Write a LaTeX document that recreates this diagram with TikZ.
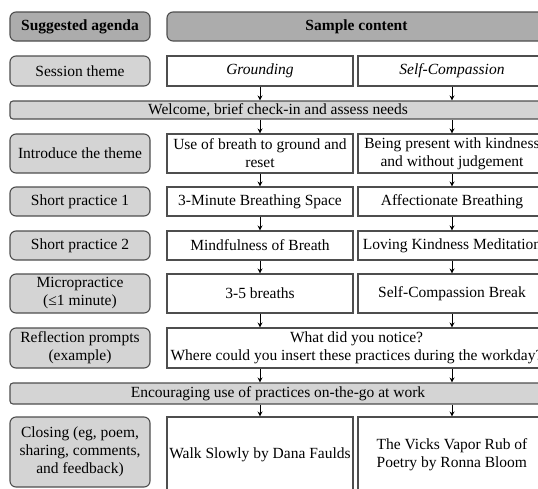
\documentclass[tikz,border=0pt]{standalone}
\usepackage{fontspec}
\setmainfont{Liberation Serif}
\usetikzlibrary{arrows.meta,positioning}
\definecolor{agendagray}{RGB}{212,212,212}
\definecolor{headgray}{RGB}{172,172,172}
\definecolor{edgegray}{RGB}{78,78,78}

\begin{document}
\begin{tikzpicture}[x=1pt, y=-1pt,
  every node/.style={font=\fontsize{15.5}{18}\selectfont, inner sep=0pt},
  agenda/.style={draw=edgegray, fill=agendagray, rounded corners=6pt, line width=1.1pt,
                 minimum width=140pt, align=center},
  head/.style={agenda, fill=headgray, font=\fontsize{15.5}{18}\selectfont\bfseries},
  content/.style={draw=edgegray, fill=white, line width=1.1pt, align=center},
  colA/.style={content, minimum width=186pt},
  colB/.style={content, minimum width=188pt},
  bar/.style={draw=edgegray, fill=agendagray, rounded corners=3pt, line width=1.1pt,
              minimum width=536pt},
  link/.style={->, line width=0.8pt, black},
  >={Stealth[length=5pt, width=5pt]}
]
\clip (0,0) rectangle (538,488);

% ── Headers ──
\node[head, minimum height=29pt] (hdagenda) at (80, 26.5) {Suggested agenda};
\node[head, minimum width=379pt, minimum height=29pt] (hdcontent) at (356.5, 26.5) {Sample content};

% ── Session theme ──
\node[agenda, minimum height=30pt] (theme) at (80, 71) {Session theme};
\node[colA, minimum height=30pt] (themeA) at (260, 71) {\itshape Grounding};
\node[colB, minimum height=30pt] (themeB) at (452, 71) {\itshape Self-Compassion};

% ── Welcome ──
\node[bar, minimum height=18pt] (welcome) at (278, 110) {Welcome, brief check-in and assess needs};

% ── Introduce ──
\node[agenda, minimum height=39pt] (intro) at (80, 153.5) {Introduce the theme};
\node[colA, minimum height=39pt] (introA) at (260, 153.5) {Use of breath to ground and\\reset};
\node[colB, minimum height=39pt] (introB) at (452, 153.5) {Being present with kindness\\and without judgement};

% ── Short practices ──
\node[agenda, minimum height=29pt] (spone) at (80, 201.5) {Short practice 1};
\node[colA, minimum height=29pt] (sponeA) at (260, 201.5) {3-Minute Breathing Space};
\node[colB, minimum height=29pt] (sponeB) at (452, 201.5) {Affectionate Breathing};

\node[agenda, minimum height=29pt] (sptwo) at (80, 245.5) {Short practice 2};
\node[colA, minimum height=29pt] (sptwoA) at (260, 245.5) {Mindfulness of Breath};
\node[colB, minimum height=29pt] (sptwoB) at (452, 245.5) {Loving Kindness Meditation};

% ── Micropractice ──
\node[agenda, minimum height=39pt] (micro) at (80, 293.5) {Micropractice\\(≤1 minute)};
\node[colA, minimum height=39pt] (microA) at (260, 293.5) {3-5 breaths};
\node[colB, minimum height=39pt] (microB) at (452, 293.5) {Self-Compassion Break};

% ── Reflection ──
\node[agenda, minimum height=40pt] (reflect) at (80, 348) {Reflection prompts\\(example)};
\node[content, minimum width=379pt, minimum height=40pt] (reflectAB) at (356.5, 348)
  {What did you notice?\\Where could you insert these practices during the workday?};

% ── Encouraging ──
\node[bar, minimum height=21pt] (encourage) at (278, 393.5) {Encouraging use of practices on-the-go at work};

% ── Closing ──
\node[agenda, minimum height=70pt] (closing) at (80, 452) {Closing (eg, poem,\\sharing, comments,\\and feedback)};
\node[colA, minimum height=76pt] (closingA) at (260, 455) {Walk Slowly by Dana Faulds};
\node[colB, minimum height=76pt, align=left] (closingB) at (452, 455) {The Vicks Vapor Rub of\\Poetry by Ronna Bloom};

% ── Arrows ──
\draw[link] (themeA) -- (themeA |- welcome.north);
\draw[link] (themeB) -- (themeB |- welcome.north);
\draw[link] (themeA |- welcome.south) -- (introA);
\draw[link] (themeB |- welcome.south) -- (introB);
\draw[link] (introA) -- (sponeA);
\draw[link] (introB) -- (sponeB);
\draw[link] (sponeA) -- (sptwoA);
\draw[link] (sponeB) -- (sptwoB);
\draw[link] (sptwoA) -- (microA);
\draw[link] (sptwoB) -- (microB);
\draw[link] (microA) -- (microA |- reflectAB.north);
\draw[link] (microB) -- (microB |- reflectAB.north);
\draw[link] (microA |- reflectAB.south) -- (microA |- encourage.north);
\draw[link] (microB |- reflectAB.south) -- (microB |- encourage.north);
\draw[link] (microA |- encourage.south) -- (closingA);
\draw[link] (microB |- encourage.south) -- (closingB);

\end{tikzpicture}
\end{document}
